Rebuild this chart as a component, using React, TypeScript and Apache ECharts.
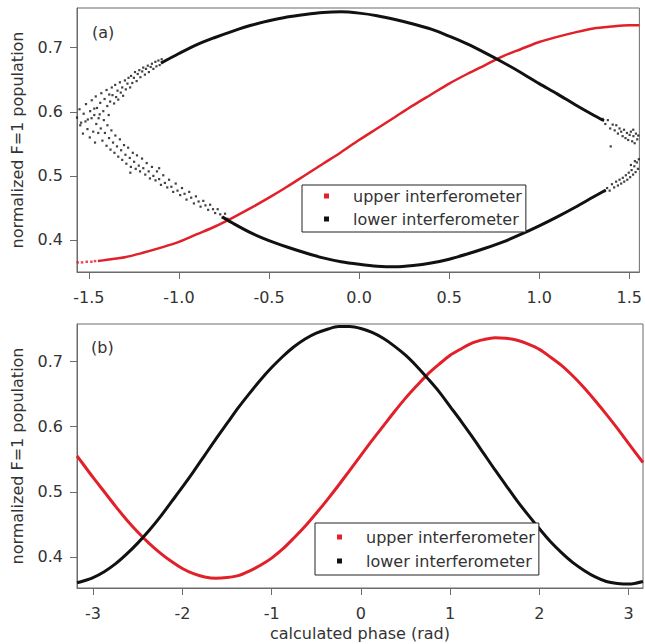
import React, { useEffect, useRef } from "react";
import * as echarts from "echarts";

// ---------- tick labels ----------
const xTicksA = [-1.5, -1.0, -0.5, 0.0, 0.5, 1.0, 1.5];
const xTicksB = [-3, -2, -1, 0, 1, 2, 3];
const yTicks = [0.4, 0.5, 0.6, 0.7];

const upperName = "upper interferometer";
const lowerName = "lower interferometer";

// ---------- panel (a) ----------
// upper interferometer (red)
const redA: number[][] = [
  [-1.45, 0.367], [-1.4, 0.369], [-1.3, 0.373], [-1.2, 0.38], [-1.1, 0.388],
  [-1.0, 0.397], [-0.9, 0.409], [-0.8, 0.421], [-0.7, 0.435], [-0.6, 0.45],
  [-0.5, 0.466], [-0.4, 0.483], [-0.3, 0.501], [-0.2, 0.519], [-0.1, 0.537],
  [0.0, 0.556], [0.1, 0.574], [0.2, 0.592], [0.3, 0.61], [0.4, 0.627],
  [0.5, 0.644], [0.6, 0.659], [0.7, 0.673], [0.8, 0.687], [0.9, 0.698],
  [1.0, 0.709], [1.1, 0.717], [1.2, 0.724], [1.3, 0.73], [1.4, 0.733],
  [1.5, 0.735], [1.556, 0.735],
];
const redADots: number[][] = [
  [-1.562, 0.365], [-1.538, 0.365], [-1.512, 0.366], [-1.486, 0.366], [-1.466, 0.367],
];

// lower interferometer (black): dense upper branch
const blackAUpper: number[][] = [
  [-1.1, 0.676], [-1.0, 0.691], [-0.9, 0.705], [-0.8, 0.716],
  [-0.7, 0.726], [-0.6, 0.735], [-0.5, 0.742], [-0.4, 0.748], [-0.3, 0.752],
  [-0.2, 0.755], [-0.1, 0.756], [0.0, 0.754], [0.1, 0.75], [0.2, 0.744],
  [0.3, 0.737], [0.4, 0.729], [0.5, 0.718], [0.6, 0.706], [0.7, 0.692],
  [0.8, 0.677], [0.9, 0.661], [1.0, 0.644], [1.1, 0.628], [1.2, 0.611],
  [1.3, 0.595], [1.36, 0.586],
];
// dense lower branch
const blackALower: number[][] = [
  [-0.76, 0.436], [-0.7, 0.426], [-0.6, 0.411], [-0.5, 0.399], [-0.4, 0.389],
  [-0.3, 0.38], [-0.2, 0.372], [-0.1, 0.366], [0.0, 0.362], [0.1, 0.359],
  [0.2, 0.358], [0.3, 0.36], [0.4, 0.364], [0.5, 0.37], [0.6, 0.378],
  [0.7, 0.387], [0.8, 0.397], [0.9, 0.409], [1.0, 0.422], [1.1, 0.436],
  [1.2, 0.451], [1.3, 0.467], [1.37, 0.478],
];
// scattered points of the noisy ends of both branches
const blackAScatter: number[][] = [
  // upper branch, left end
  [-1.566, 0.591], [-1.552, 0.604], [-1.543, 0.583], [-1.529, 0.597], [-1.516, 0.612],
  [-1.506, 0.588], [-1.493, 0.601], [-1.484, 0.618], [-1.47, 0.595], [-1.462, 0.624],
  [-1.455, 0.606], [-1.446, 0.59], [-1.437, 0.614], [-1.431, 0.629], [-1.42, 0.601],
  [-1.413, 0.62], [-1.402, 0.634], [-1.398, 0.609], [-1.387, 0.627], [-1.382, 0.616],
  [-1.373, 0.638], [-1.369, 0.626], [-1.36, 0.613], [-1.354, 0.642], [-1.349, 0.623],
  [-1.341, 0.633], [-1.337, 0.619], [-1.328, 0.646], [-1.323, 0.63], [-1.315, 0.638],
  [-1.31, 0.625], [-1.3, 0.649], [-1.295, 0.635], [-1.286, 0.644], [-1.28, 0.653],
  [-1.271, 0.638], [-1.266, 0.656], [-1.259, 0.645], [-1.25, 0.653], [-1.244, 0.662],
  [-1.235, 0.648], [-1.229, 0.659], [-1.22, 0.665], [-1.214, 0.654], [-1.204, 0.663],
  [-1.198, 0.669], [-1.189, 0.658], [-1.183, 0.667], [-1.173, 0.672], [-1.167, 0.662],
  [-1.157, 0.67], [-1.15, 0.675], [-1.142, 0.667], [-1.131, 0.678], [-1.125, 0.671],
  [-1.114, 0.68], [-1.107, 0.673], [-1.096, 0.682],
  // upper branch, right end
  [1.352, 0.589], [1.367, 0.581], [1.381, 0.587], [1.394, 0.574], [1.408, 0.58],
  [1.419, 0.571], [1.428, 0.579], [1.437, 0.566], [1.446, 0.574], [1.455, 0.569],
  [1.463, 0.562], [1.471, 0.572], [1.479, 0.559], [1.487, 0.567], [1.494, 0.556],
  [1.502, 0.564], [1.509, 0.569], [1.516, 0.554], [1.523, 0.562], [1.53, 0.551],
  [1.537, 0.566], [1.544, 0.557], [1.55, 0.563], [1.397, 0.546], [1.522, 0.572],
  // lower branch, left end
  [-1.548, 0.579], [-1.533, 0.566], [-1.519, 0.585], [-1.508, 0.573], [-1.495, 0.56],
  [-1.485, 0.59], [-1.476, 0.569], [-1.466, 0.552], [-1.459, 0.581], [-1.448, 0.567],
  [-1.44, 0.596], [-1.434, 0.574], [-1.425, 0.555], [-1.417, 0.587], [-1.411, 0.567],
  [-1.402, 0.547], [-1.397, 0.579], [-1.388, 0.559], [-1.38, 0.541], [-1.375, 0.571],
  [-1.366, 0.552], [-1.358, 0.536], [-1.353, 0.563], [-1.344, 0.546], [-1.337, 0.53],
  [-1.328, 0.557], [-1.321, 0.54], [-1.315, 0.525], [-1.305, 0.548], [-1.297, 0.533],
  [-1.292, 0.519], [-1.282, 0.544], [-1.273, 0.528], [-1.267, 0.514], [-1.256, 0.536],
  [-1.249, 0.522], [-1.24, 0.511], [-1.233, 0.532], [-1.223, 0.516], [-1.216, 0.507],
  [-1.205, 0.527], [-1.198, 0.512], [-1.187, 0.502], [-1.179, 0.52], [-1.168, 0.507],
  [-1.161, 0.496], [-1.15, 0.514], [-1.142, 0.5], [-1.13, 0.493], [-1.122, 0.507],
  [-1.11, 0.495], [-1.1, 0.486], [-1.087, 0.501], [-1.078, 0.489], [-1.065, 0.482],
  [-1.055, 0.494], [-1.042, 0.483], [-1.032, 0.475], [-1.018, 0.488], [-1.008, 0.477],
  [-0.993, 0.47], [-0.983, 0.481], [-0.969, 0.472], [-0.958, 0.463], [-0.943, 0.475],
  [-0.932, 0.466], [-0.917, 0.457], [-0.906, 0.468], [-0.891, 0.46], [-0.88, 0.452],
  [-0.865, 0.461], [-0.853, 0.454], [-0.838, 0.447], [-0.827, 0.455], [-0.811, 0.448],
  [-0.799, 0.442], [-0.785, 0.448], [-0.771, 0.44], [-0.758, 0.435], [-0.744, 0.441],
  [-0.73, 0.433], [-1.47, 0.605], [-1.39, 0.595], [-1.27, 0.505], [-1.11, 0.512],
  // lower branch, right end
  [1.362, 0.476], [1.377, 0.481], [1.391, 0.477], [1.404, 0.487], [1.416, 0.482],
  [1.427, 0.491], [1.437, 0.485], [1.446, 0.494], [1.455, 0.488], [1.464, 0.497],
  [1.472, 0.491], [1.481, 0.501], [1.489, 0.494], [1.497, 0.505], [1.505, 0.498],
  [1.513, 0.509], [1.521, 0.502], [1.528, 0.515], [1.535, 0.506], [1.542, 0.521],
  [1.548, 0.511], [1.553, 0.526], [1.531, 0.523], [1.509, 0.517],
];

// ---------- panel (b) ----------
const redB: number[][] = [
  [-3.18, 0.555], [-3.125, 0.545], [-3.0, 0.522], [-2.875, 0.5], [-2.75, 0.478],
  [-2.625, 0.457], [-2.5, 0.438], [-2.375, 0.421], [-2.25, 0.406], [-2.125, 0.393],
  [-2.0, 0.382], [-1.875, 0.374], [-1.75, 0.369], [-1.625, 0.367], [-1.5, 0.368],
  [-1.375, 0.371], [-1.25, 0.378], [-1.125, 0.387], [-1.0, 0.398], [-0.875, 0.412],
  [-0.75, 0.429], [-0.625, 0.447], [-0.5, 0.467], [-0.375, 0.488], [-0.25, 0.51],
  [-0.125, 0.533], [0.0, 0.556], [0.125, 0.579], [0.25, 0.601], [0.375, 0.623],
  [0.5, 0.644], [0.625, 0.663], [0.75, 0.681], [0.875, 0.696], [1.0, 0.71],
  [1.125, 0.72], [1.25, 0.729], [1.375, 0.734], [1.5, 0.737], [1.625, 0.736],
  [1.75, 0.733], [1.875, 0.727], [2.0, 0.719], [2.125, 0.707], [2.25, 0.694],
  [2.375, 0.678], [2.5, 0.66], [2.625, 0.64], [2.75, 0.619], [2.875, 0.597],
  [3.0, 0.574], [3.16, 0.545],
];
const blackB: number[][] = [
  [-3.18, 0.36], [-3.125, 0.362], [-3.0, 0.368], [-2.875, 0.377], [-2.75, 0.389],
  [-2.625, 0.404], [-2.5, 0.421], [-2.375, 0.44], [-2.25, 0.461], [-2.125, 0.484],
  [-2.0, 0.507], [-1.875, 0.531], [-1.75, 0.556], [-1.625, 0.581], [-1.5, 0.605],
  [-1.375, 0.629], [-1.25, 0.651], [-1.125, 0.672], [-1.0, 0.691], [-0.875, 0.708],
  [-0.75, 0.723], [-0.625, 0.735], [-0.5, 0.744], [-0.375, 0.75], [-0.25, 0.754],
  [-0.125, 0.754], [0.0, 0.751], [0.125, 0.745], [0.25, 0.736], [0.375, 0.724],
  [0.5, 0.71], [0.625, 0.693], [0.75, 0.674], [0.875, 0.654], [1.0, 0.631],
  [1.125, 0.608], [1.25, 0.584], [1.375, 0.559], [1.5, 0.534], [1.625, 0.51],
  [1.75, 0.486], [1.875, 0.464], [2.0, 0.443], [2.125, 0.423], [2.25, 0.406],
  [2.375, 0.391], [2.5, 0.379], [2.625, 0.369], [2.75, 0.362], [2.875, 0.359],
  [3.0, 0.358], [3.16, 0.362],
];

const RED = "#e2202a";
const BLACK = "#111111";
const TEXT = "#333333";
const AXIS = "#6b6b6b";
const FONT = "DejaVu Sans";

function xAxisCfg(grid: number, min: number, max: number, ticks: number[], digits: number, name?: string) {
  return {
    type: "value",
    gridIndex: grid,
    min,
    max,
    name: name || "",
    nameLocation: "middle",
    nameGap: 37,
    nameTextStyle: { fontSize: 16, color: TEXT, fontFamily: FONT },
    axisLine: { show: true, onZero: false, lineStyle: { color: AXIS, width: 1 } },
    axisTick: { show: true, customValues: ticks, length: 7, lineStyle: { color: AXIS } },
    axisLabel: {
      customValues: ticks,
      formatter: (v: number) => v.toFixed(digits),
      margin: 17,
      fontSize: 16,
      color: TEXT,
      fontFamily: FONT,
    },
    splitLine: { show: false },
  };
}

function yAxisCfg(grid: number, min: number, max: number) {
  return {
    type: "value",
    gridIndex: grid,
    min,
    max,
    name: "normalized F=1 population",
    nameLocation: "middle",
    nameGap: 52,
    nameTextStyle: { fontSize: 16, color: TEXT, fontFamily: FONT },
    axisLine: { show: true, onZero: false, lineStyle: { color: AXIS, width: 1 } },
    axisTick: { show: true, customValues: yTicks, length: 7, lineStyle: { color: AXIS } },
    axisLabel: {
      customValues: yTicks,
      formatter: (v: number) => v.toFixed(1),
      margin: 14,
      fontSize: 16,
      color: TEXT,
      fontFamily: FONT,
    },
    splitLine: { show: false },
  };
}

function legendCfg(left: number, top: number, gap: number, padding: number[]) {
  return {
    orient: "vertical",
    left,
    top,
    itemWidth: 5,
    itemHeight: 5,
    itemGap: gap,
    padding,
    borderColor: "#222",
    borderWidth: 1,
    backgroundColor: "#fff",
    selectedMode: false,
    textStyle: { fontSize: 16, color: TEXT, fontFamily: FONT, padding: [0, 0, 0, 19] },
    data: [
      { name: upperName, icon: "rect", itemStyle: { color: RED } },
      { name: lowerName, icon: "rect", itemStyle: { color: BLACK } },
    ],
  };
}

export default function App() {
  const ref = useRef<HTMLDivElement>(null);
  useEffect(() => {
    if (!ref.current) return;
    const chart = echarts.init(ref.current, null, { renderer: "svg" });
    const option = {
      animation: false,
      backgroundColor: "#fff",
      title: [
        { text: "(a)", left: 92, top: 24, padding: 0, textStyle: { fontSize: 16, fontWeight: "normal", color: TEXT, fontFamily: FONT } },
        { text: "(b)", left: 91, top: 339, padding: 0, textStyle: { fontSize: 16, fontWeight: "normal", color: TEXT, fontFamily: FONT } },
      ],
      grid: [
        { left: 77, top: 8, width: 566, height: 264, show: true, borderColor: AXIS, borderWidth: 1, backgroundColor: "transparent" },
        { left: 77, top: 324, width: 566, height: 264, show: true, borderColor: AXIS, borderWidth: 1, backgroundColor: "transparent" },
      ],
      xAxis: [
        xAxisCfg(0, -1.566, 1.556, xTicksA, 1),
        xAxisCfg(1, -3.18, 3.16, xTicksB, 0, "calculated phase (rad)"),
      ],
      yAxis: [yAxisCfg(0, 0.35, 0.762), yAxisCfg(1, 0.352, 0.758)],
      legend: [
        legendCfg(302, 185, 7, [3, 4, 5, 22]),
        legendCfg(315, 523, 8, [6, 4, 6, 22]),
      ],
      series: [
        {
          name: upperName, type: "line", xAxisIndex: 0, yAxisIndex: 0, data: redA,
          smooth: 0.3, showSymbol: false, lineStyle: { color: RED, width: 2.5 }, itemStyle: { color: RED },
        },
        {
          name: upperName, type: "scatter", xAxisIndex: 0, yAxisIndex: 0, data: redADots,
          symbol: "rect", symbolSize: 2.5, itemStyle: { color: RED },
        },
        {
          name: lowerName, type: "line", xAxisIndex: 0, yAxisIndex: 0, data: blackAUpper,
          smooth: 0.3, showSymbol: false, lineStyle: { color: BLACK, width: 3 }, itemStyle: { color: BLACK },
        },
        {
          name: lowerName, type: "line", xAxisIndex: 0, yAxisIndex: 0, data: blackALower,
          smooth: 0.3, showSymbol: false, lineStyle: { color: BLACK, width: 3 }, itemStyle: { color: BLACK },
        },
        {
          name: lowerName, type: "scatter", xAxisIndex: 0, yAxisIndex: 0, data: blackAScatter,
          symbol: "rect", symbolSize: 2.2, itemStyle: { color: BLACK },
        },
        {
          name: upperName, type: "line", xAxisIndex: 1, yAxisIndex: 1, data: redB,
          smooth: 0.3, showSymbol: false, lineStyle: { color: RED, width: 3 }, itemStyle: { color: RED },
        },
        {
          name: lowerName, type: "line", xAxisIndex: 1, yAxisIndex: 1, data: blackB,
          smooth: 0.3, showSymbol: false, lineStyle: { color: BLACK, width: 3 }, itemStyle: { color: BLACK },
        },
      ],
    };
    chart.setOption(option as any);
    return () => chart.dispose();
  }, []);
  return <div ref={ref} style={{ position: "fixed", left: 0, top: 0, width: 645, height: 644 }} />;
}
